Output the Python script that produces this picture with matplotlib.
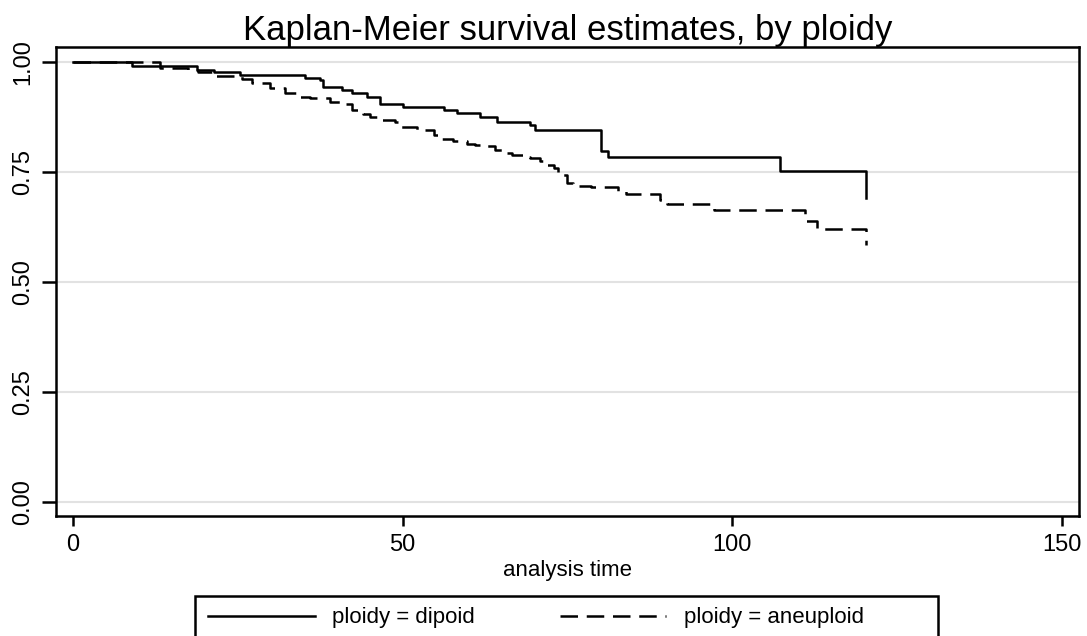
import matplotlib
matplotlib.use("Agg")
import matplotlib.pyplot as plt
from matplotlib.lines import Line2D
from matplotlib.patches import Rectangle

plt.rcParams['font.family'] = ['Liberation Sans', 'DejaVu Sans']

# Kaplan-Meier step estimates (time, survival)
dipoid_time = [0, 8.9, 18.8, 21.3, 25.3, 35.2, 37.5, 37.9, 40.8, 42.3, 44.6,
               46.6, 50.1, 56.2, 58.2, 61.8, 64.3, 69.3, 70.1, 80.1, 81.2,
               107.2, 120.3]
dipoid_surv = [1.0, 0.991, 0.982, 0.978, 0.970, 0.964, 0.959, 0.942, 0.936,
               0.929, 0.921, 0.904, 0.898, 0.891, 0.883, 0.876, 0.864, 0.857,
               0.845, 0.798, 0.783, 0.753, 0.690]

aneu_time = [0, 13.2, 17.5, 19.0, 21.3, 25.6, 27.1, 29.9, 32.2, 34.2, 36.0,
             39.0, 40.5, 42.3, 44.0, 45.1, 46.6, 48.9, 49.7, 52.2, 54.8,
             55.9, 57.6, 59.8, 61.0, 62.3, 64.0, 65.0, 66.6, 68.3, 69.3,
             70.9, 71.9, 72.9, 73.6, 74.2, 74.9, 75.9, 78.5, 82.7, 83.8,
             89.0, 90.1, 97.2, 111.1, 112.8, 120.3]
aneu_surv = [1.0, 0.986, 0.982, 0.977, 0.968, 0.961, 0.953, 0.940, 0.929,
             0.921, 0.919, 0.910, 0.905, 0.891, 0.881, 0.876, 0.868, 0.863,
             0.853, 0.845, 0.834, 0.826, 0.820, 0.814, 0.811, 0.808, 0.800,
             0.792, 0.789, 0.785, 0.781, 0.776, 0.766, 0.760, 0.751, 0.743,
             0.724, 0.718, 0.715, 0.707, 0.701, 0.686, 0.677, 0.664, 0.639,
             0.620, 0.584]

x_ticks = [0, 50, 100, 150]
y_ticks = [0.0, 0.25, 0.5, 0.75, 1.0]
y_labels = ['0.00', '0.25', '0.50', '0.75', '1.00']
series_labels = ['ploidy = dipoid', 'ploidy = aneuploid']

W, H = 1087, 636
dash = (0, (7, 3.5))

fig = plt.figure(figsize=(W / 100, H / 100), dpi=100)
ax = fig.add_axes([56 / W, 1 - 516 / H, (1079 - 56) / W, (516 - 47) / H])

for y in y_ticks:
    ax.axhline(y, color='#e2e2e2', lw=1.5, zorder=0)

ax.step(dipoid_time, dipoid_surv, where='post', color='black', lw=1.8)
ax.step(aneu_time, aneu_surv, where='post', color='black', lw=1.8,
        linestyle=dash)

ax.set_xlim(-2.6, 152.6)
ax.set_ylim(-0.032, 1.034)
ax.set_xticks(x_ticks)
ax.set_xticklabels([str(v) for v in x_ticks], fontsize=17)
ax.set_yticks(y_ticks)
ax.set_yticklabels(y_labels, fontsize=17, rotation=90, va='center')
ax.tick_params(axis='x', length=7, width=1.8, pad=6)
ax.tick_params(axis='y', length=10, width=1.8, pad=6)
for s in ax.spines.values():
    s.set_linewidth(1.8)

ax.set_xlabel('analysis time', fontsize=16)
ax.xaxis.set_label_coords(0.5, (516 - 560) / (516 - 47))
ax.set_title('Kaplan-Meier survival estimates, by ploidy', fontsize=25, pad=3)

# legend: contents placed on their own, box drawn separately (cut off at bottom like the original)
handles = [Line2D([], [], color='black', lw=1.8),
           Line2D([], [], color='black', lw=1.8, linestyle=dash)]
fig.legend(handles, series_labels, ncol=2, loc='center left',
           bbox_to_anchor=(208 / W, 1 - 618 / H), fontsize=16, frameon=False,
           handlelength=4.8, handletextpad=0.8, columnspacing=3.8,
           borderpad=0, borderaxespad=0)
fig.patches.append(Rectangle((195 / W, 1 - 660 / H), (938 - 195) / W, (660 - 596) / H,
                             transform=fig.transFigure, fill=False,
                             edgecolor='black', lw=1.8))

fig.savefig('out.png', dpi=100)
